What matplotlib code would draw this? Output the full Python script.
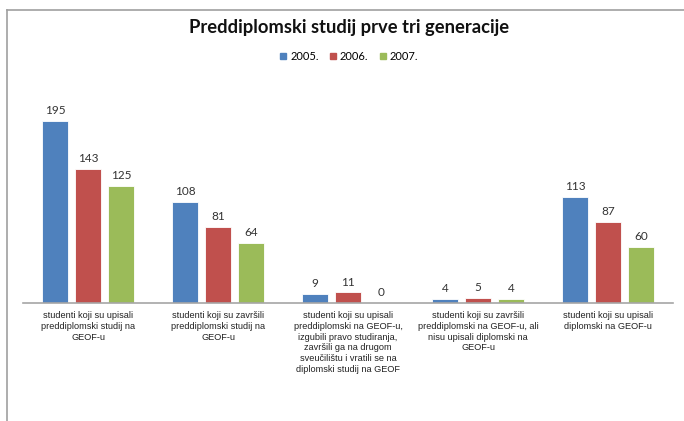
import numpy as np
import matplotlib.pyplot as plt
from matplotlib.lines import Line2D

categories = [
    "studenti koji su upisali\npreddiplomski studij na\nGEOF-u",
    "studenti koji su završili\npreddiplomski studij na\nGEOF-u",
    "studenti koji su upisali\npreddiplomski na GEOF-u,\nizgubili pravo studiranja,\nzavršili ga na drugom\nsveučilištu i vratili se na\ndiplomski studij na GEOF",
    "studenti koji su završili\npreddiplomski na GEOF-u, ali\nnisu upisali diplomski na\nGEOF-u",
    "studenti koji su upisali\ndiplomski na GEOF-u",
]
years = ["2005.", "2006.", "2007."]
v2005 = [195, 108, 9, 4, 113]
v2006 = [143, 81, 11, 5, 87]
v2007 = [125, 64, 0, 4, 60]

colors = ["#4F81BD", "#C0504D", "#9BBB59"]

W, H = 684, 421
fig = plt.figure(figsize=(W / 100, H / 100), dpi=100)

# axes: baseline at y=302.7, 0.933 px per unit
ax = fig.add_axes([23 / W, 1 - 302.7 / H, 650 / W, 200 / H])
ax.set_xlim(-0.5, 4.5)
ax.set_ylim(0, 200 / 0.933)

x = np.arange(len(categories))
offsets = [-0.254, 0, 0.254]
for vals, off, c, lab in zip([v2005, v2006, v2007], offsets, colors, years):
    bars = ax.bar(x + off, vals, width=0.2, color=c, edgecolor="white", linewidth=0.6, label=lab)
    for b, v in zip(bars, vals):
        ax.annotate(str(v), (b.get_x() + b.get_width() / 2, b.get_height()),
                    xytext=(0, 3.5), textcoords="offset points", ha="center", va="bottom",
                    fontsize=8.5, color="#333333", family="Lato")

for s in ["top", "right", "left"]:
    ax.spines[s].set_visible(False)
ax.spines["bottom"].set_color("#a6a6a6")
ax.spines["bottom"].set_linewidth(1.2)
ax.set_yticks([])
ax.set_xticks(x)
ax.set_xticklabels(categories, fontsize=6.6, family="Liberation Sans", color="#222222",
                   linespacing=1.25)
ax.tick_params(axis="x", length=0, pad=6)

fig.text(349 / W, 1 - 28 / H, "Preddiplomski studij prve tri generacije", ha="center",
         va="center", fontsize=13.2, fontweight="bold", family="Lato", color="#111111")

handles = [Line2D([0], [0], marker="s", ls="none", color=c, markersize=5) for c in colors]
fig.legend(handles, years, loc="center", bbox_to_anchor=(349 / W, 1 - 56 / H), ncol=3,
           frameon=False, handlelength=0.6, handletextpad=0.3, columnspacing=1.0,
           prop={"family": "Lato", "size": 8})

# frame lines of the original screenshot
fig.add_artist(Line2D([7 / W, 7 / W], [0, 1 - 10 / H], color="#a0a0a0", lw=1.2,
                      transform=fig.transFigure))
fig.add_artist(Line2D([7 / W, 1], [1 - 10 / H, 1 - 10 / H], color="#a0a0a0", lw=1.2,
                      transform=fig.transFigure))

fig.savefig("out.png", dpi=100)
